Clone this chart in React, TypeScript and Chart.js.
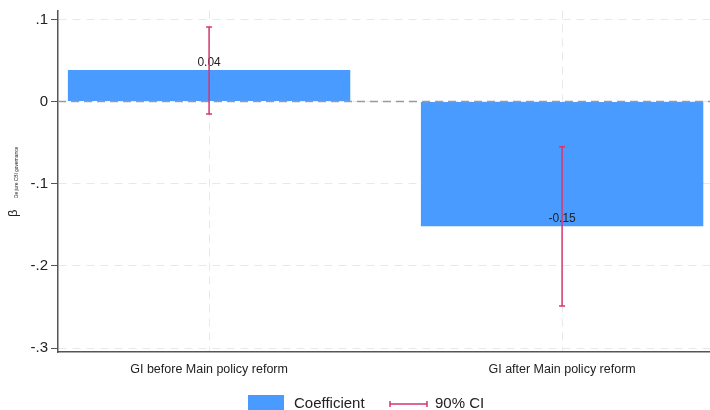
import React, { useEffect, useRef } from "react";
import { Chart, registerables } from "chart.js";

Chart.register(...registerables);

const categories = ["GI before Main policy reform", "GI after Main policy reform"];
const categoryPositions = [1, 2];
const coefficients = [0.0384, -0.1518];
const coefLabels = ["0.04", "-0.15"];
const ciLow = [-0.0152, -0.2488];
const ciHigh = [0.0908, -0.0551];
const yTickValues = [0.1, 0, -0.1, -0.2, -0.3];
const yTickLabels = [".1", "0", "-.1", "-.2", "-.3"];
const legendLabels = ["Coefficient", "90% CI"];
const yTitleMain = "β";
const yTitleSub = "De jure CBI governance";

const BAR_COLOR = "#4a9bff";
const CI_COLOR = "#d4376f";
const AXIS_COLOR = "#555555";
const GRID_COLOR = "#e8e8e8";
const TEXT_COLOR = "#222222";
const FONT = "'Liberation Sans', Arial, sans-serif";

export default function App() {
  const ref = useRef<HTMLCanvasElement | null>(null);

  useEffect(() => {
    document.body.style.margin = "0";
    const canvas = ref.current;
    if (!canvas) return;

    const ciData: any[] = [];
    categoryPositions.forEach((p, i) => {
      ciData.push({ x: p, y: ciLow[i] });
      ciData.push({ x: p, y: ciHigh[i] });
      if (i < categoryPositions.length - 1) ciData.push({ x: p + 0.5, y: null });
    });

    const overlayPlugin = {
      id: "overlay",
      afterDatasetDraw(chart: any, args: any) {
        if (args.index !== 0) return;
        const ctx = chart.ctx;
        const xs = chart.scales.x;
        const ys = chart.scales.y;
        const area = chart.chartArea;
        // zero line
        ctx.save();
        ctx.strokeStyle = "#9a9a9a";
        ctx.lineWidth = 1.5;
        ctx.setLineDash([8, 5]);
        ctx.beginPath();
        const y0 = ys.getPixelForValue(0);
        ctx.moveTo(area.left, y0);
        ctx.lineTo(area.right, y0);
        ctx.stroke();
        ctx.restore();
        // value labels
        ctx.save();
        ctx.fillStyle = TEXT_COLOR;
        ctx.font = `12px ${FONT}`;
        ctx.textAlign = "center";
        ctx.textBaseline = "alphabetic";
        coefficients.forEach((v, i) => {
          const px = xs.getPixelForValue(categoryPositions[i]);
          const py = ys.getPixelForValue(v);
          ctx.fillText(coefLabels[i], px, py - 4);
        });
        ctx.restore();
      },
      afterDraw(chart: any) {
        const ctx = chart.ctx;
        // y title: β with subscript, rotated
        ctx.save();
        ctx.translate(13, 0);
        ctx.rotate(-Math.PI / 2);
        ctx.fillStyle = TEXT_COLOR;
        ctx.textAlign = "left";
        ctx.textBaseline = "alphabetic";
        ctx.font = `13px ${FONT}`;
        ctx.fillText(yTitleMain, -217, 4);
        ctx.font = `4.8px ${FONT}`;
        ctx.fillText(yTitleSub, -198, 5);
        ctx.restore();

        // legend
        ctx.save();
        ctx.fillStyle = BAR_COLOR;
        ctx.fillRect(248, 395, 36, 16);
        ctx.fillStyle = TEXT_COLOR;
        ctx.font = `15px ${FONT}`;
        ctx.textAlign = "left";
        ctx.textBaseline = "middle";
        ctx.fillText(legendLabels[0], 294, 404);
        ctx.strokeStyle = CI_COLOR;
        ctx.lineWidth = 1.5;
        ctx.beginPath();
        ctx.moveTo(390, 404);
        ctx.lineTo(427, 404);
        ctx.moveTo(390, 401);
        ctx.lineTo(390, 407);
        ctx.moveTo(427, 401);
        ctx.lineTo(427, 407);
        ctx.stroke();
        ctx.fillText(legendLabels[1], 435, 404);
        ctx.restore();
      },
    };

    const chart = new Chart(canvas, {
      type: "bar",
      data: {
        datasets: [
          {
            type: "bar",
            label: legendLabels[0],
            data: categoryPositions.map((p, i) => ({ x: p, y: coefficients[i] })),
            backgroundColor: BAR_COLOR,
            borderWidth: 0,
            barPercentage: 1,
            categoryPercentage: 0.8,
            order: 2,
          } as any,
          {
            type: "line",
            label: legendLabels[1],
            data: ciData,
            borderColor: CI_COLOR,
            borderWidth: 1.5,
            showLine: true,
            spanGaps: false,
            pointStyle: "line",
            pointRadius: 3,
            pointHoverRadius: 3,
            pointBorderColor: CI_COLOR,
            pointBorderWidth: 1.5,
            fill: false,
            order: 1,
          } as any,
        ],
      },
      options: {
        animation: false,
        responsive: false,
        devicePixelRatio: 1,
        layout: { autoPadding: false, padding: { top: 8, left: 0, right: 0, bottom: 0 } },
        plugins: {
          legend: { display: false },
          tooltip: { enabled: false },
        },
        scales: {
          x: {
            type: "linear",
            min: 0.572,
            max: 2.419,
            offset: false,
            afterBuildTicks: (scale: any) => {
              scale.ticks = categoryPositions.map((v) => ({ value: v }));
            },
            afterFit: (scale: any) => {
              scale.height = 58;
            },
            ticks: {
              autoSkip: false,
              maxRotation: 0,
              padding: 10,
              color: TEXT_COLOR,
              font: { family: FONT, size: 12.5 },
              callback: (_v: any, i: number) => categories[i],
            },
            grid: { color: GRID_COLOR, drawTicks: false, offset: false, lineWidth: 1 },
            border: { color: AXIS_COLOR, width: 1.5, dash: [8, 6] },
          },
          y: {
            type: "linear",
            min: -0.3048,
            max: 0.1109,
            afterBuildTicks: (scale: any) => {
              scale.ticks = yTickValues.map((v) => ({ value: v }));
            },
            afterFit: (scale: any) => {
              scale.width = 58;
            },
            ticks: {
              padding: 3,
              color: TEXT_COLOR,
              font: { family: FONT, size: 15, lineHeight: 1 },
              callback: (_v: any, i: number) => yTickLabels[i],
            },
            grid: { color: GRID_COLOR, tickColor: AXIS_COLOR, tickLength: 7, lineWidth: 1 },
            border: { color: AXIS_COLOR, width: 1.5, dash: [8, 6] },
          },
        },
      } as any,
      plugins: [overlayPlugin],
    });

    return () => chart.destroy();
  }, []);

  return (
    <div style={{ width: 710, height: 410, position: "relative", background: "#fff", overflow: "hidden" }}>
      <canvas ref={ref} width={710} height={410} style={{ width: 710, height: 410, display: "block" }} />
    </div>
  );
}
